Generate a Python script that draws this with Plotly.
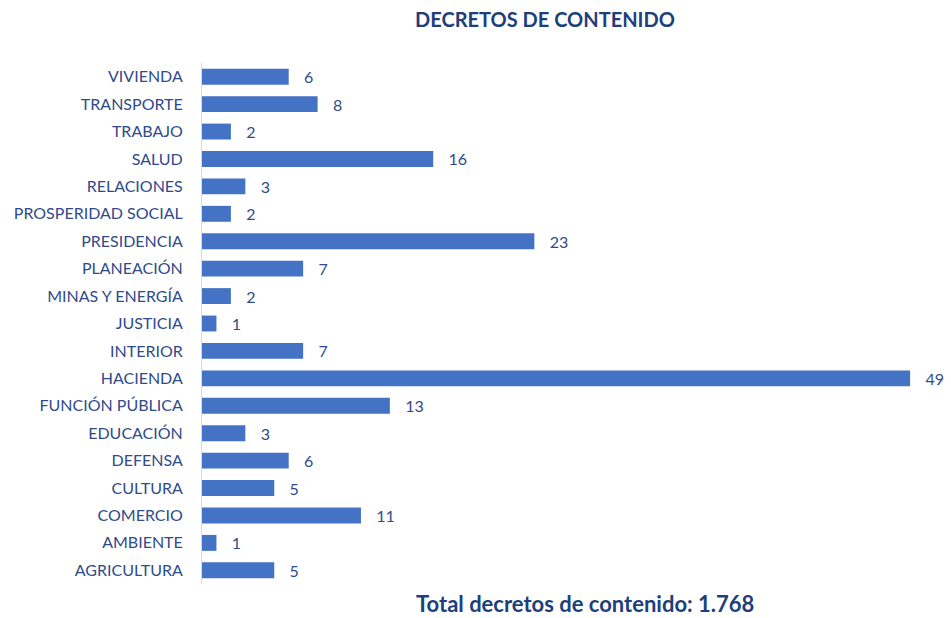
import plotly.graph_objects as go

categories = ["AGRICULTURA", "AMBIENTE", "COMERCIO", "CULTURA", "DEFENSA", "EDUCACIÓN",
              "FUNCIÓN PÚBLICA", "HACIENDA", "INTERIOR", "JUSTICIA", "MINAS Y ENERGÍA",
              "PLANEACIÓN", "PRESIDENCIA", "PROSPERIDAD SOCIAL", "RELACIONES", "SALUD",
              "TRABAJO", "TRANSPORTE", "VIVIENDA"]
values = [5, 1, 11, 5, 6, 3, 13, 49, 7, 1, 2, 7, 23, 2, 3, 16, 2, 8, 6]
title_text = "DECRETOS DE CONTENIDO"
total_text = "Total decretos de contenido: 1.768"

TXT = "#2F4B8A"
FONT = "Lato"

fig = go.Figure()
fig.add_trace(go.Bar(
    y=categories, x=values, orientation="h",
    marker=dict(color="#4472C4", line=dict(width=0)),
    text=[f"\u00a0\u00a0\u00a0{v}" for v in values],
    textposition="outside", cliponaxis=False, constraintext="none",
    textfont=dict(family=FONT, size=16, color=TXT),
    hoverinfo="skip",
))

fig.update_layout(
    width=951, height=618,
    margin=dict(l=202, r=12, t=63, b=34, autoexpand=False),
    paper_bgcolor="white", plot_bgcolor="white",
    bargap=0.42, showlegend=False,
    title=dict(text=f"<b>{title_text}</b>", x=545/951, xanchor="center",
               y=1 - 20/618, yanchor="middle",
               font=dict(family=FONT, size=20, color="#203F7A")),
    annotations=[dict(text=f"<b>{total_text}</b>", xref="paper", yref="paper",
                      x=(585 - 202) / 737, xanchor="center", y=-19/521, yanchor="middle",
                      showarrow=False, font=dict(family=FONT, size=22, color="#203F7A"))],
)
fig.update_xaxes(range=[0, 51], visible=False)
fig.update_yaxes(range=[-0.5, 18.5], showline=True, linecolor="#D9D9D9", linewidth=1,
                 showgrid=False, ticks="", ticklabelstandoff=15,
                 tickfont=dict(family=FONT, size=16, color=TXT))

fig.write_html("out.html", config={"displayModeBar": False},
               post_script="document.body.style.margin='0';")
